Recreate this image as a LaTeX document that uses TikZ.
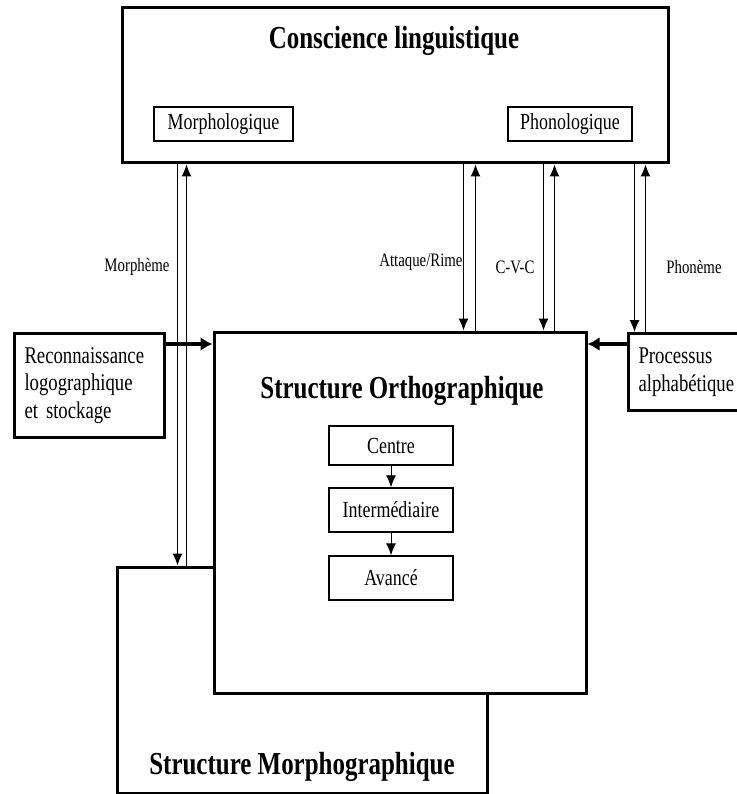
\documentclass[tikz,border=0pt]{standalone}
\usepackage{fontspec}
\setmainfont[FakeStretch=0.78]{Liberation Serif}
\usetikzlibrary{arrows.meta}

\begin{document}
\begin{tikzpicture}[x=1pt, y=-1pt, draw=black,
	bigbox/.style={draw, line width=3pt, fill=white, inner sep=0},
	stagebox/.style={draw, line width=1.4pt, fill=white, inner sep=0, minimum width=124, font=\fontsize{23}{25}\selectfont},
	sidebox/.style={draw, line width=3pt, fill=white, inner xsep=10, align=left, anchor=north west, font=\fontsize{24}{27.5}\selectfont},
	titletext/.style={font=\bfseries\fontsize{32}{34}\selectfont},
	linklabel/.style={font=\fontsize{19}{21}\selectfont},
	linkarrow/.style={line width=1pt, -{Latex[length=12pt, width=10pt]}},
	feedarrow/.style={line width=4pt, -{Latex[length=12pt, width=14pt]}}]
	\useasboundingbox (0,0) rectangle (736,794);
	% boites principales
	\node[bigbox, minimum width=546, minimum height=155] (ling)   at (395,85.5) {};
	\node[titletext]                                     (lingtt) at (394,41)   {Conscience linguistique};
	\node[stagebox, minimum width=139, minimum height=34] (morphol) at (223.5,124) {Morphologique};
	\node[stagebox, minimum width=124, minimum height=34] (phonol)  at (570,124)   {Phonologique};
	\node[bigbox, minimum width=370, minimum height=226] (morpho)   at (302,680)   {};
	\node[titletext]                                     (morphott) at (302,767)   {Structure Morphographique};
	\node[bigbox, minimum width=372, minimum height=361] (ortho)    at (400,512.5) {};
	\node[titletext]                                     (orthott)  at (402,391)   {Structure Orthographique};
	\node[sidebox, text width=130, minimum height=104] (recon) at (13,332)  {Reconnaissance\\logographique\\et stockage};
	\node[sidebox, text width=100, minimum height=77]  (alpha) at (627,332) {Processus\\alphab\'etique};
	% niveaux
	\node[stagebox, minimum height=39] (centre) at (391,445.5) {Centre};
	\node[stagebox, minimum height=44] (inter)  at (391,510)   {Interm\'ediaire};
	\node[stagebox, minimum height=44] (avance) at (391,578)   {Avanc\'e};
	\draw[linkarrow] (centre) -- (inter);
	\draw[linkarrow] (inter) -- (avance);
	% fleches doubles
	\foreach \n/\dx in {m1/57, m2/66, a1/343, a2/355, c1/423, c2/434, p1/514, p2/525}
		\coordinate (\n) at ([xshift=\dx]ling.south west);
	\draw[linkarrow] (m1) -- (m1 |- morpho.north);
	\draw[linkarrow] (m2 |- morpho.north) -- (m2);
	\draw[linkarrow] (a1) -- (a1 |- ortho.north);
	\draw[linkarrow] (a2 |- ortho.north) -- (a2);
	\draw[linkarrow] (c1) -- (c1 |- ortho.north);
	\draw[linkarrow] (c2 |- ortho.north) -- (c2);
	\draw[linkarrow] (p1) -- (p1 |- alpha.north);
	\draw[linkarrow] (p2 |- alpha.north) -- (p2);
	\node[linklabel]              (lmorph)   at (137,267) {Morph\`eme};
	\node[linklabel, anchor=east] (lattaque) at (466,262) {Attaque/Rime};
	\node[linklabel]              (lcvc)     at (515,267) {C-V-C};
	\node[linklabel]              (lphon)    at (694,267) {Phon\`eme};
	% entrees laterales
	\coordinate (rin) at ([yshift=-12]recon.north east);
	\coordinate (pin) at ([yshift=-12]alpha.north west);
	\draw[feedarrow] (rin) -- (rin -| ortho.west);
	\draw[feedarrow] (pin) -- (pin -| ortho.east);
\end{tikzpicture}
\end{document}
